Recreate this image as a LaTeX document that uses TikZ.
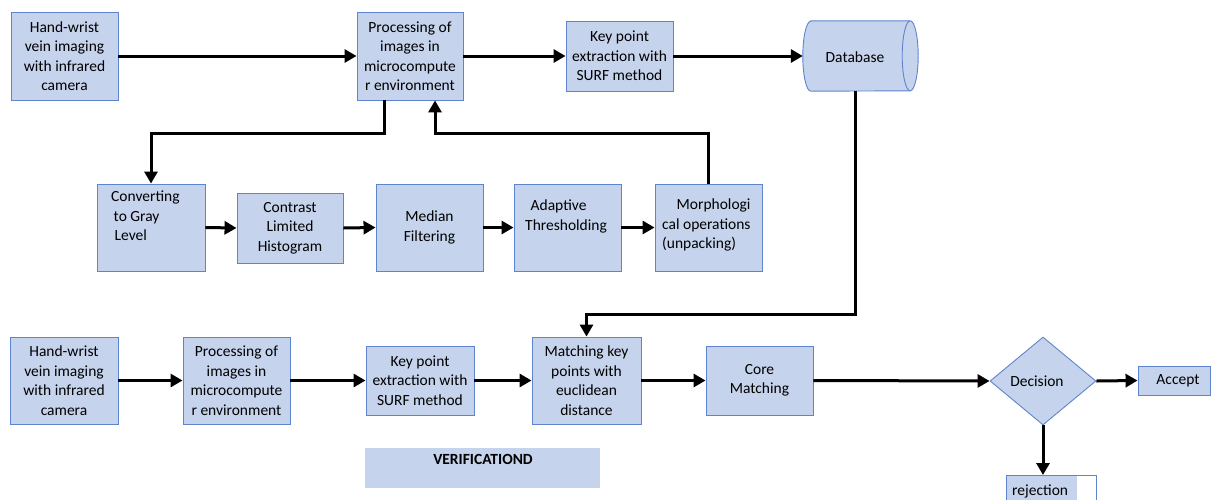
\documentclass[tikz,border=0pt]{standalone}
\usepackage{fontspec}
\setmainfont{Carlito}
\usetikzlibrary{arrows.meta,shapes.geometric}
\definecolor{boxfill}{RGB}{198,211,236}
\definecolor{boxline}{RGB}{94,132,206}
\begin{document}
\begin{tikzpicture}[x=1pt,y=-1pt,
			box/.style={draw=boxline, line width=0.9pt, fill=boxfill, inner sep=0pt, align=center, font=\fontsize{15.5}{19.5}\selectfont},
			txt/.style={inner sep=0pt, font=\fontsize{15.5}{19.5}\selectfont},
			arr/.style={line width=3pt, -{Triangle[length=12pt,width=13pt]}}]
			\useasboundingbox (0,0) rectangle (1216,499);
			%---------------- ENROLMENT ----------------
			\node[box, minimum width=107pt, minimum height=88pt] (hwa) at (64.5,56) {Hand-wrist\\vein imaging\\with infrared\\camera};
			\node[box, minimum width=106pt, minimum height=88pt] (proca) at (410,56) {Processing of\\images in\\microcompute\\r environment};
			\node[box, minimum width=107pt, minimum height=70pt] (keya) at (619.5,56) {Key point\\extraction with\\SURF method};
			\node[inner sep=0pt, minimum width=115pt, minimum height=70pt] (db) at (860.5,56) {};
			\filldraw[fill=boxfill, draw=boxline, line width=0.9pt] ([xshift=8pt]db.north west) -- ([xshift=-8pt]db.north east)
				arc[start angle=90, end angle=-90, x radius=8pt, y radius=35pt] -- ([xshift=8pt]db.south west)
				arc[start angle=270, end angle=90, x radius=8pt, y radius=35pt] -- cycle;
			\draw[boxline, line width=0.9pt] ([xshift=-8pt]db.north east) arc[start angle=90, end angle=270, x radius=8pt, y radius=35pt];
			\node[txt] (dbtxt) at (855,57) {Database};
			\draw[arr] (hwa.east) -- (proca.west);
			\draw[arr] (proca.east) -- (keya.west);
			\draw[arr] (keya.east) -- (db.west);
			%---------------- PRE-PROCESSING ----------------
			\node[box, minimum width=108pt, minimum height=87pt] (conv) at (151,227.5) {};
			\node[txt, anchor=north west, align=left] (convtxt) at (111,191) {Converting\\\hspace*{2.5pt}to Gray\\\hspace*{3.5pt}Level};
			\node[box, minimum width=106pt, minimum height=70pt] (clahe) at (290,228) {Contrast\\Limited\\Histogram};
			\node[box, minimum width=107pt, minimum height=87pt] (median) at (429.5,227.5) {Median\\Filtering};
			\node[box, minimum width=107pt, minimum height=87pt] (adapt) at (567.5,227.5) {};
			\node[txt, anchor=north west, align=left] (adapttxt) at (525,200) {\hspace*{5.5pt}Adaptive\\Thresholding};
			\node[box, minimum width=107pt, minimum height=87pt] (morph) at (708.5,227.5) {};
			\node[txt, anchor=north west, align=left] (morphtxt) at (662,199) {\hspace*{14.5pt}Morphologi\\cal operations\\(unpacking)};
			\draw[arr] ([xshift=-26pt]proca.south) -- ++(0,33) -| (conv.north);
			\draw[arr] (conv.east) -- (clahe.west);
			\draw[arr] (clahe.east) -- (median.west);
			\draw[arr] (median.east) -- (adapt.west);
			\draw[arr] (adapt.east) -- (morph.west);
			\draw[arr] (morph.north) -- ++(0,-50) -| ([xshift=25pt]proca.south);
			%---------------- VERIFICATION ----------------
			\node[box, minimum width=108pt, minimum height=87pt] (hwb) at (64,380.5) {Hand-wrist\\vein imaging\\with infrared\\camera};
			\node[box, minimum width=107pt, minimum height=87pt] (procb) at (236.5,380.5) {Processing of\\images in\\microcompute\\r environment};
			\node[box, minimum width=108pt, minimum height=69pt] (keyb) at (420,380.5) {Key point\\extraction with\\SURF method};
			\node[box, minimum width=109pt, minimum height=87pt] (match) at (586.5,380.5) {Matching key\\points with\\euclidean\\distance};
			\node[box, minimum width=107pt, minimum height=69pt] (core) at (759.5,380.5) {Core\\Matching};
			\node[box, diamond, minimum width=106pt, minimum height=88pt] (dec) at (1043,381) {\hspace*{-12pt}Decision};
			\node[box, minimum width=72pt, minimum height=29pt] (acc) at (1174,380.5) {\hspace*{8pt}Accept};
			\node[box, fill=white, minimum width=90pt, minimum height=40pt, anchor=north,
				path picture={\fill[boxfill] (path picture bounding box.north west) rectangle ([xshift=-19pt]path picture bounding box.south east);}] (rej) at (1051,475) {};
			\node[txt, anchor=west] (rejtxt) at (1012,491) {rejection};
			\node[fill=boxfill, minimum width=235pt, minimum height=40pt, inner sep=0pt] (verif) at (482.5,468) {};
			\node[txt, font=\fontsize{15.5}{19.5}\selectfont\bfseries] (veriftxt) at (483,459) {VERIFICATIOND};
			\draw[arr] (dbtxt.center |- db.south) -- (dbtxt.center |- 0,314) -| (match.north);
			\draw[arr] (hwb.east) -- (procb.west);
			\draw[arr] (procb.east) -- (keyb.west);
			\draw[arr] (keyb.east) -- (match.west);
			\draw[arr] (match.east) -- (core.west);
			\draw[arr] (core.east) -- (dec.west);
			\draw[arr] (dec.east) -- (acc.west);
			\draw[arr] (dec.south) -- (dec.south |- rej.north);
\end{tikzpicture}
\end{document}
